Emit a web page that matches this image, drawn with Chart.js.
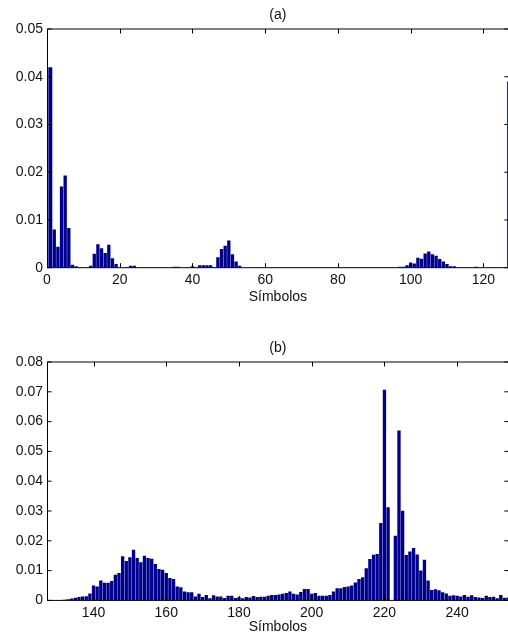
<!DOCTYPE html>
<html>
<head>
<meta charset="utf-8">
<script src="https://cdn.jsdelivr.net/npm/chart.js@4/dist/chart.umd.min.js"></script>
<style>
html, body { margin: 0; padding: 0; background: #fff; overflow: hidden; width: 508px; height: 637px; }
canvas { position: absolute; left: 0; }
#chartA { top: 0; }
#chartB { top: 333px; }
</style>
</head>
<body>
<canvas id="chartA" width="512" height="307"></canvas>
<canvas id="chartB" width="512" height="304"></canvas>
<script>
// symbol probabilities 0..127
var probA = [
	0.042, 0.042, 0.008, 0.0044, 0.017, 0.0193, 0.0083, 0.0006, 0.0003, 0.0001, 0, 0, 0.0004, 0.0029, 0.0049, 0.0041,
	0.0031, 0.0048, 0.002, 0.0008, 0.0001, 0, 0.0001, 0.0004, 0.0004, 0, 0, 0, 0, 0, 0, 0,
	0, 0, 0, 0.0002, 0.0002, 0, 0, 0, 0.0003, 0.0001, 0.0005, 0.0005, 0.0005, 0.0005, 0.0001, 0.0022,
	0.0039, 0.0046, 0.0057, 0.0028, 0.0013, 0.0004, 0, 0, 0, 0, 0, 0, 0, 0, 0, 0,
	0, 0, 0, 0, 0, 0, 0, 0, 0, 0, 0, 0, 0, 0, 0, 0,
	0, 0, 0, 0, 0, 0, 0, 0, 0, 0, 0, 0, 0, 0, 0.0001, 0,
	0, 0.0002, 0.0002, 0.0005, 0.0011, 0.0009, 0.0021, 0.0019, 0.003, 0.0034, 0.0028, 0.0025, 0.0018, 0.0013, 0.0008, 0.0003,
	0.0003, 0, 0, 0, 0, 0, 0.0002, 0, 0, 0, 0, 0, 0, 0, 0, 0.039
];
// symbol probabilities 128..255
var probB = [
	0, 0, 0, 0.0001, 0.0002, 0.0004, 0.0006, 0.0009, 0.0011, 0.0013, 0.0014, 0.0023, 0.005, 0.0047, 0.0067, 0.0059,
	0.0059, 0.0065, 0.0086, 0.0092, 0.0148, 0.0132, 0.0145, 0.017, 0.0142, 0.0128, 0.015, 0.0142, 0.014, 0.0122, 0.0105, 0.0103,
	0.0092, 0.0075, 0.0072, 0.0047, 0.0044, 0.003, 0.0027, 0.0027, 0.0013, 0.0022, 0.0011, 0.0018, 0.0007, 0.0017, 0.0013, 0.0013,
	0.0008, 0.0016, 0.0016, 0.0008, 0.0011, 0.0007, 0.0011, 0.001, 0.0015, 0.0011, 0.0012, 0.0012, 0.0016, 0.0018, 0.0018, 0.002,
	0.0022, 0.0025, 0.003, 0.0022, 0.002, 0.0028, 0.0038, 0.0038, 0.0022, 0.0025, 0.0016, 0.0016, 0.0016, 0.0018, 0.003, 0.0041,
	0.0041, 0.0045, 0.0047, 0.005, 0.006, 0.0072, 0.0078, 0.0108, 0.0139, 0.0153, 0.0156, 0.026, 0.0707, 0.0313, 0, 0.0217,
	0.057, 0.0301, 0.0152, 0.0164, 0.0176, 0.0154, 0.01, 0.0136, 0.0067, 0.0035, 0.0037, 0.0034, 0.0027, 0.0023, 0.0016, 0.0017,
	0.0016, 0.0013, 0.0018, 0.0012, 0.0017, 0.0011, 0.001, 0.0008, 0.0016, 0.0011, 0.0012, 0.0007, 0.0018, 0.0009, 0.001, 0.001
];
var symbolsA = probA.map((p, i) => i);
var symbolsB = probB.map((p, i) => 128 + i);

var xTicksA = [0, 20, 40, 60, 80, 100, 120];
var xTicksB = [140, 160, 180, 200, 220, 240];
var yTicksA = [0, 0.01, 0.02, 0.03, 0.04, 0.05];
var yTicksB = [0, 0.01, 0.02, 0.03, 0.04, 0.05, 0.06, 0.07, 0.08];
var titles = ['(a)', '(b)'];
var xLabel = 'Símbolos';

var symbols = symbolsA.concat(symbolsB);
var probabilities = probA.concat(probB);

var font = {family: "'Liberation Sans', Arial, sans-serif", size: 14, weight: 'normal'};
var textColor = '#111';

var boxPlugin = {
	id: 'box',
	afterDraw: chart => {
		var ctx = chart.ctx;
		var a = chart.chartArea;
		var xs = chart.scales.x;
		var ys = chart.scales.y;
		ctx.save();
		ctx.strokeStyle = '#000';
		ctx.lineWidth = 1;
		ctx.beginPath();
		ctx.rect(a.left + 0.5, a.top, a.right - a.left, a.bottom - a.top);
		xs.ticks.forEach(t => {
			var px = Math.round(xs.getPixelForValue(t.value)) + 0.5;
			ctx.moveTo(px, a.bottom);
			ctx.lineTo(px, a.bottom - 4.5);
			ctx.moveTo(px, a.top);
			ctx.lineTo(px, a.top + 4.5);
		});
		ys.ticks.forEach(t => {
			var py = ys.getPixelForValue(t.value);
			ctx.moveTo(a.left, py);
			ctx.lineTo(a.left + 4.5, py);
			ctx.moveTo(a.right, py);
			ctx.lineTo(a.right - 4.5, py);
		});
		ctx.stroke();
		ctx.restore();
	}
};

function makeChart(id, o){
	return new Chart(document.getElementById(id), {
		type: 'bar',
		data: {
			datasets: [{
				data: symbols.map((s, i) => ({x: s, y: probabilities[i]})),
				backgroundColor: '#00008f',
				borderWidth: 0,
				barPercentage: 0.92,
				categoryPercentage: 1,
				clip: 0,
			}]
		},
		options: {
			responsive: false,
			animation: false,
			layout: {padding: {left: 0, right: 3.2, top: 0, bottom: 0}},
			plugins: {
				legend: {display: false},
				tooltip: {enabled: false},
				title: {
					display: true,
					fullSize: false,
					text: o.title,
					color: textColor,
					font: font,
					padding: {top: 7, bottom: 5.2}
				}
			},
			scales: {
				x: {
					type: 'linear',
					offset: false,
					bounds: 'data',
					min: o.xMin,
					max: o.xMax,
					grid: {display: false, drawTicks: false, offset: false},
					border: {display: false},
					afterBuildTicks: s => { s.ticks = o.xTicks.map(v => ({value: v})); },
					afterFit: s => { s.height = o.xHeight; },
					ticks: {padding: 4, color: textColor, font: font, maxRotation: 0, autoSkip: false},
					title: {display: true, text: xLabel, color: textColor, font: font, padding: {top: 0, bottom: 1}}
				},
				y: {
					type: 'linear',
					bounds: 'data',
					min: 0,
					max: o.yMax,
					grid: {display: false, drawTicks: false},
					border: {display: false},
					afterBuildTicks: s => { s.ticks = o.yTicks.map(v => ({value: v})); },
					afterFit: s => { s.width = 47; },
					ticks: {padding: 4, color: textColor, font: font, callback: v => String(+v.toFixed(2))}
				}
			}
		},
		plugins: [boxPlugin]
	});
}

makeChart('chartA', {title: titles[0], xMin: 0, xMax: 127, xTicks: xTicksA, yMax: 0.05, yTicks: yTicksA, xHeight: 39.3});
makeChart('chartB', {title: titles[1], xMin: 127.2, xMax: 254.2, xTicks: xTicksB, yMax: 0.08, yTicks: yTicksB, xHeight: 36.6});
</script>
</body>
</html>
